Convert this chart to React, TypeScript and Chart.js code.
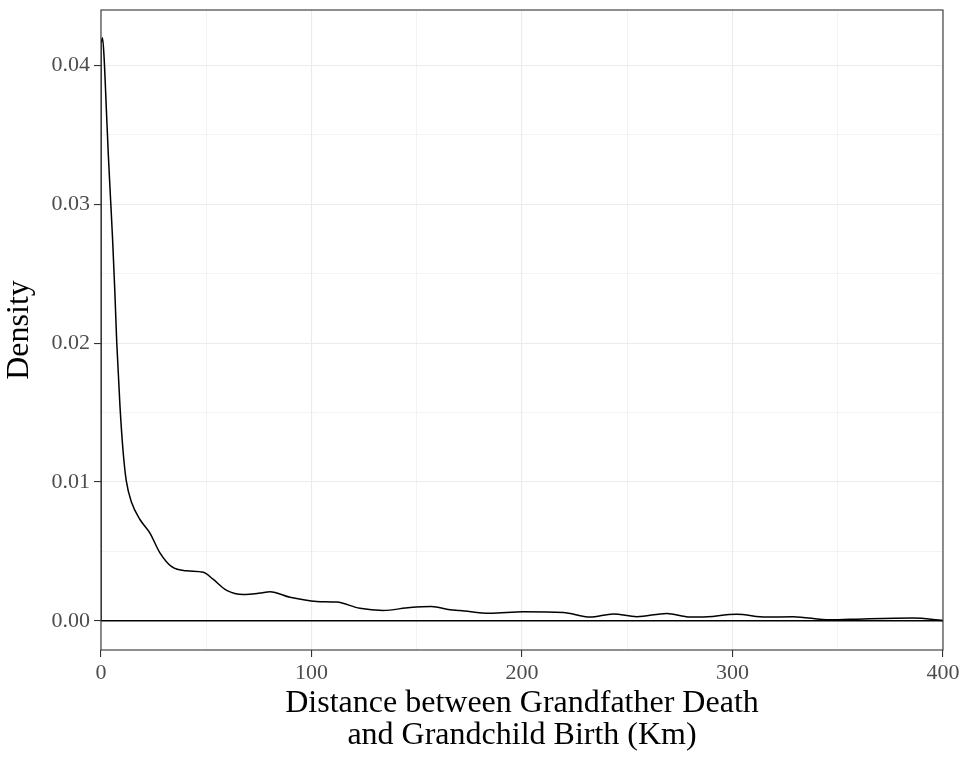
import React, { useEffect, useRef } from "react";
import { Chart, registerables } from "chart.js";

Chart.register(...registerables);

// Distance (km) and kernel density
const distanceKm = [
  0, 0.7, 1.5, 2.5, 3.5, 4.5, 5.5, 6.5, 7.5, 9.0, 10.5, 12.0, 14.6, 18.5, 23.3, 28.0,
  33.6, 40.7, 48.6, 53.2, 59.7, 67.6, 75.5, 80.3, 89.8, 102.5, 112, 123, 134, 146.8,
  157, 165.8, 170.5, 184.8, 200.6, 219.6, 232.3, 243.4, 254.5, 268.7, 279.8, 284.6,
  302, 316, 328.7, 346.3, 362, 385.7, 400,
];
const density = [
  0.0416, 0.042, 0.0405, 0.037, 0.0335, 0.0305, 0.0275, 0.024, 0.02, 0.0155, 0.0122, 0.0101,
  0.0085, 0.0073, 0.0063, 0.0049, 0.0039, 0.0036, 0.0035, 0.003, 0.0022, 0.0019, 0.002,
  0.0021, 0.0017, 0.0014, 0.00135, 0.0009, 0.00075, 0.00096, 0.00103, 0.0008, 0.00075,
  0.00055, 0.00065, 0.0006, 0.00027, 0.0005, 0.0003, 0.00053, 0.00027, 0.00027, 0.00048,
  0.00027, 0.0003, 0.00007, 0.00014, 0.0002, 0.00002,
];

const xMajorTicks = [0, 100, 200, 300, 400];
const xMinorTicks = [50, 150, 250, 350];
const yMajorTicks = [0, 0.01, 0.02, 0.03, 0.04];
const yMinorTicks = [0.005, 0.015, 0.025, 0.035];
const yTickLabels = ["0.00", "0.01", "0.02", "0.03", "0.04"];
const xTitle = ["Distance between Grandfather Death", "and Grandchild Birth (Km)"];
const yTitle = "Density";

const FONT = "'Liberation Serif', 'DejaVu Serif', serif";

export default function App() {
  const ref = useRef<HTMLCanvasElement | null>(null);

  useEffect(() => {
    document.body.style.margin = "0";
    const canvas = ref.current;
    if (!canvas) return;

    const curve = distanceKm.map((x, i) => ({ x, y: density[i] }));
    const leftEdge = [
      { x: distanceKm[0], y: 0 },
      { x: distanceKm[0], y: density[0] },
    ];
    const baseline = [
      { x: distanceKm[0], y: 0 },
      { x: distanceKm[distanceKm.length - 1], y: 0 },
    ];

    const isMajorX = (v: number) => xMajorTicks.includes(v);
    const isMajorY = (v: number) => yMajorTicks.some((t) => Math.abs(t - v) < 1e-9);

    const borderPlugin = {
      id: "panelBorder",
      afterDatasetsDraw(chart: any) {
        const { ctx, chartArea } = chart;
        ctx.save();
        ctx.strokeStyle = "#333333";
        ctx.lineWidth = 1.1;
        ctx.strokeRect(chartArea.left, chartArea.top, chartArea.right - chartArea.left, chartArea.bottom - chartArea.top);
        ctx.restore();
      },
    };

    const chart = new Chart(canvas, {
      type: "line",
      data: {
        datasets: [
          {
            data: curve,
            borderColor: "#000000",
            borderWidth: 1.5,
            pointRadius: 0,
            cubicInterpolationMode: "monotone",
            fill: false,
          },
          {
            data: leftEdge,
            borderColor: "#000000",
            borderWidth: 1.5,
            pointRadius: 0,
            fill: false,
          },
          {
            data: baseline,
            borderColor: "#000000",
            borderWidth: 1.5,
            pointRadius: 0,
            fill: false,
          },
        ],
      },
      plugins: [borderPlugin],
      options: {
        animation: false,
        responsive: false,
        events: [],
        layout: { padding: { top: 10, right: 24, left: 0, bottom: 0 } },
        plugins: { legend: { display: false }, tooltip: { enabled: false } },
        scales: {
          x: {
            type: "linear",
            min: 0,
            max: 400,
            afterBuildTicks: (scale: any) => {
              scale.ticks = [...xMajorTicks, ...xMinorTicks].sort((a, b) => a - b).map((v) => ({ value: v }));
            },
            afterFit: (scale: any) => {
              scale.height = 107;
              scale.paddingLeft = 0;
              scale.paddingRight = 0;
            },
            border: { display: false },
            grid: {
              color: "#EBEBEB",
              lineWidth: (c: any) => (isMajorX(c.tick?.value) ? 1.1 : 0.6),
              tickColor: (c: any) => (isMajorX(c.tick?.value) ? "#333333" : "rgba(0,0,0,0)"),
              tickLength: 7,
              tickWidth: 1.1,
            },
            ticks: {
              autoSkip: false,
              maxRotation: 0,
              padding: 3,
              color: "#4D4D4D",
              font: { family: FONT, size: 22 },
              callback: (v: any) => (isMajorX(Number(v)) ? String(v) : ""),
            },
            title: {
              display: true,
              text: xTitle,
              color: "#000000",
              font: { family: FONT, size: 32, lineHeight: 1.0 },
              padding: { top: 0, bottom: 5 },
            },
          },
          y: {
            type: "linear",
            min: -0.0021,
            max: 0.044,
            afterBuildTicks: (scale: any) => {
              scale.ticks = [...yMajorTicks, ...yMinorTicks].sort((a, b) => a - b).map((v) => ({ value: v }));
            },
            afterFit: (scale: any) => {
              scale.width = 101;
              scale.paddingTop = 0;
              scale.paddingBottom = 0;
            },
            border: { display: false },
            grid: {
              color: "#EBEBEB",
              lineWidth: (c: any) => (isMajorY(c.tick?.value) ? 1.1 : 0.6),
              tickColor: (c: any) => (isMajorY(c.tick?.value) ? "#333333" : "rgba(0,0,0,0)"),
              tickLength: 7,
              tickWidth: 1.1,
            },
            ticks: {
              autoSkip: false,
              padding: 4,
              color: "#4D4D4D",
              font: { family: FONT, size: 22 },
              callback: (v: any) => {
                const i = yMajorTicks.findIndex((t) => Math.abs(t - Number(v)) < 1e-9);
                return i >= 0 ? yTickLabels[i] : "";
              },
            },
            title: {
              display: true,
              text: yTitle,
              color: "#000000",
              font: { family: FONT, size: 32, lineHeight: 1.0 },
              padding: { top: 4, bottom: 0 },
            },
          },
        },
      },
    });

    return () => chart.destroy();
  }, []);

  return (
    <div style={{ width: 967, height: 757, background: "#ffffff" }}>
      <canvas ref={ref} width={967} height={757} style={{ display: "block", width: 967, height: 757 }} />
    </div>
  );
}
